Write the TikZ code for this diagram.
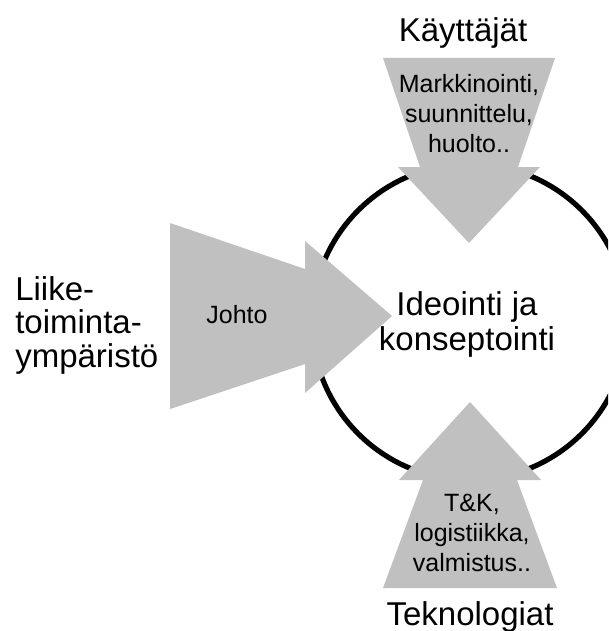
\documentclass[tikz,border=0pt]{standalone}
\usepackage{fontspec}
\setmainfont{Liberation Sans}
\definecolor{flowgray}{RGB}{192,192,192}
\begin{document}
\begin{tikzpicture}[x=0.75pt,y=-0.75pt,
  flow/.style={fill=flowgray,draw=none},
  ring/.style={draw=black,line width=3.9pt},
  biglabel/.style={font=\fontsize{24.75pt}{26.25pt}\selectfont,inner sep=0pt,align=center},
  sidelabel/.style={font=\fontsize{24.75pt}{25pt}\selectfont,inner sep=0pt,align=left},
  smalllabel/.style={font=\fontsize{18.75pt}{22.5pt}\selectfont,inner sep=0pt,align=center}]
  \useasboundingbox (0,0) rectangle (608,631);
  \clip (0,0) rectangle (608,631);
  \fill[white] (0,0) rectangle (608,631);

  % central process ring
  \draw[ring] (470,322) circle[radius=158];

  % incoming block arrows
  \fill[flow] (383,58) -- (555,58) -- (518,167) -- (540,167) -- (469,243)
              -- (398,167) -- (420,167) -- cycle;
  \fill[flow] (383,588) -- (557,588) -- (517,480) -- (541,480) -- (470,402)
              -- (399,480) -- (423,480) -- cycle;
  \fill[flow] (170,223) -- (305,269) -- (305,241) -- (392,316) -- (305,393)
              -- (305,364) -- (170,409) -- cycle;

  % labels (multi-line nodes are anchored at the baseline of their last line)
  \node[biglabel,anchor=base] (users) at (463,42) {Käyttäjät};
  \node[biglabel,anchor=base] (tech) at (470,625) {Teknologiat};
  \node[biglabel,anchor=base] (core) at (467,350) {Ideointi ja\\konseptointi};
  \node[sidelabel,anchor=base west] (business) at (15,367) {Liike-\\toiminta-\\ympäristö};
  \node[smalllabel,anchor=base] (users-in) at (469,152) {Markkinointi,\\suunnittelu,\\huolto..};
  \node[smalllabel,anchor=base] (tech-in) at (472,571) {T\&K,\\logistiikka,\\valmistus..};
  \node[smalllabel,anchor=base] (lead) at (237,323) {Johto};
\end{tikzpicture}
\end{document}
